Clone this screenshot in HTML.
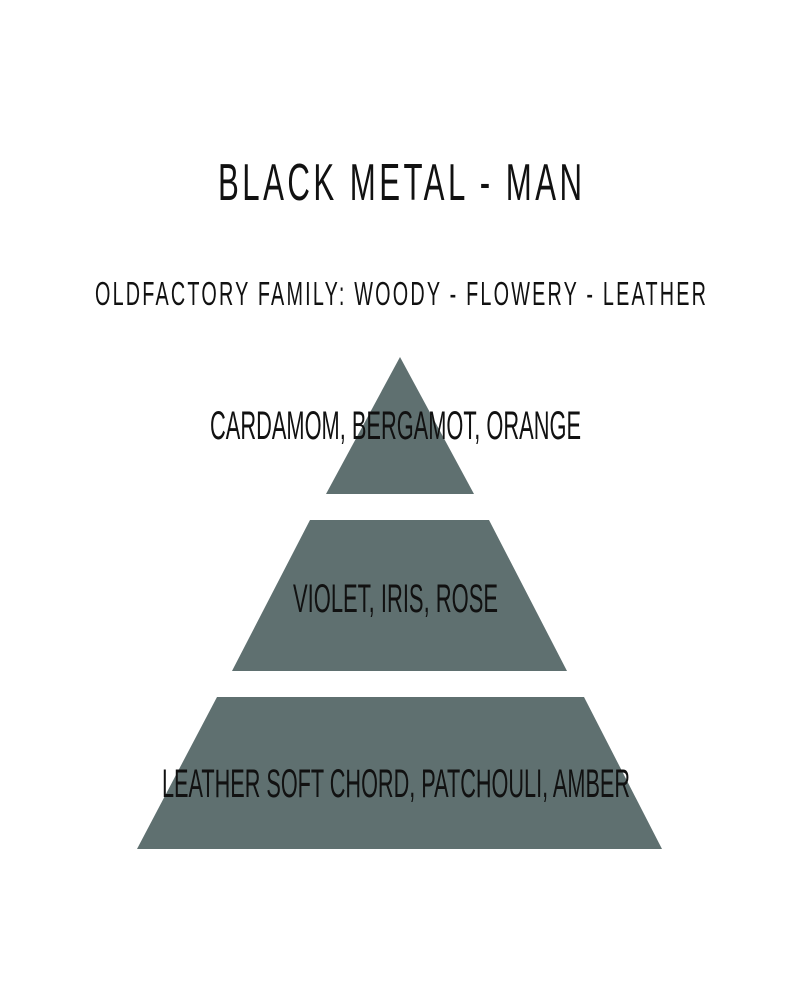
<!DOCTYPE html>
<html><head><meta charset="utf-8"><style>
html,body{margin:0;padding:0;background:#fff;}
svg{display:block;}
text{font-family:"Liberation Sans",sans-serif;fill:#111;}
</style></head><body>
<svg width="800" height="1000" viewBox="0 0 800 1000" xmlns="http://www.w3.org/2000/svg">
<rect width="800" height="1000" fill="#fff"/>
<g fill="#5f7070">
<polygon points="400,357 474,494 326,494"/>
<polygon points="310,520 489,520 567,671 232,671"/>
<polygon points="217,697 584,697 662,849 137,849"/>
</g>
<g transform="scale(0.6,1)">
<text x="363.3" y="200" font-size="52" textLength="606.7" lengthAdjust="spacing">BLACK METAL - MAN</text>
<text x="158.3" y="305" font-size="33" textLength="1018.3" lengthAdjust="spacing">OLDFACTORY FAMILY: WOODY - FLOWERY - LEATHER</text>
</g>
<text x="210" y="439" font-size="40" textLength="371" lengthAdjust="spacingAndGlyphs">CARDAMOM, BERGAMOT, ORANGE</text>
<text x="293" y="612" font-size="40" textLength="205" lengthAdjust="spacingAndGlyphs">VIOLET, IRIS, ROSE</text>
<text x="162" y="797" font-size="40" textLength="468" lengthAdjust="spacingAndGlyphs">LEATHER SOFT CHORD, PATCHOULI, AMBER</text>
</svg>
</body></html>
